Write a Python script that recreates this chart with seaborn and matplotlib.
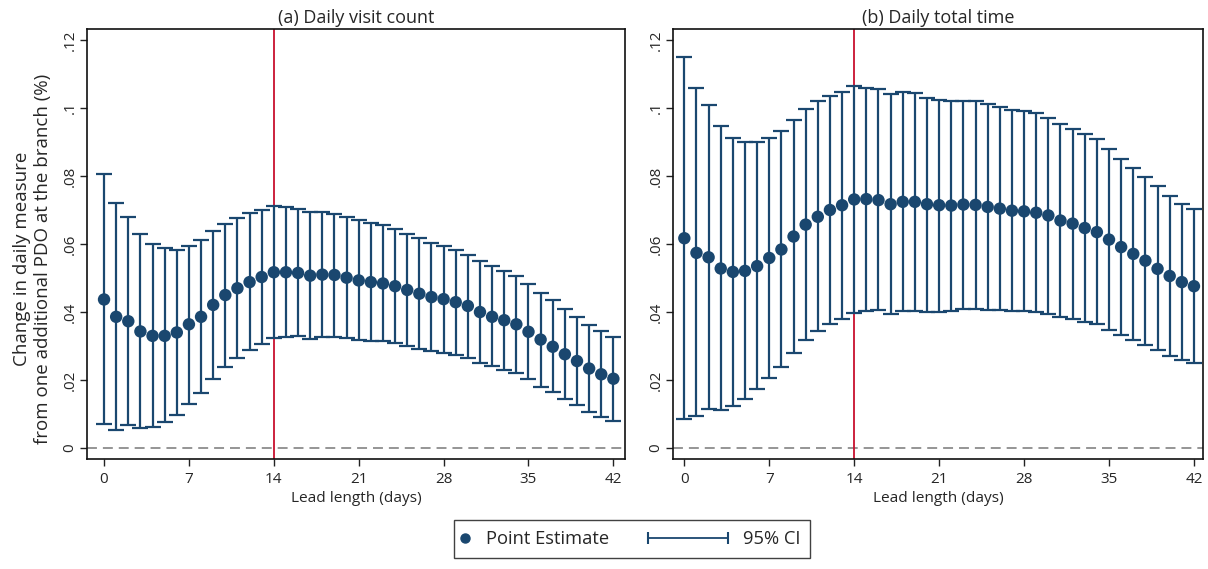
import matplotlib
matplotlib.use("Agg")
import matplotlib.pyplot as plt
from matplotlib.lines import Line2D
from matplotlib.legend_handler import HandlerBase, HandlerLine2D
import pandas as pd
import seaborn as sns

# lead length (days)
days = list(range(43))

# (a) daily visit count
visit_est = [0.0437, 0.0386, 0.0373, 0.0343, 0.0330, 0.0330, 0.0340, 0.0364, 0.0386, 0.0421,
             0.0450, 0.0470, 0.0488, 0.0503, 0.0517, 0.0517, 0.0515, 0.0507, 0.0510, 0.0509,
             0.0501, 0.0493, 0.0488, 0.0484, 0.0476, 0.0465, 0.0454, 0.0444, 0.0438, 0.0429,
             0.0418, 0.0400, 0.0386, 0.0376, 0.0364, 0.0342, 0.0319, 0.0298, 0.0276, 0.0256,
             0.0234, 0.0217, 0.0204]
visit_hi = [0.0807, 0.0722, 0.0680, 0.0629, 0.0600, 0.0587, 0.0582, 0.0595, 0.0611, 0.0638,
            0.0660, 0.0676, 0.0690, 0.0700, 0.0712, 0.0708, 0.0704, 0.0695, 0.0695, 0.0689,
            0.0678, 0.0670, 0.0661, 0.0655, 0.0644, 0.0629, 0.0617, 0.0603, 0.0595, 0.0583,
            0.0569, 0.0549, 0.0535, 0.0522, 0.0507, 0.0482, 0.0457, 0.0434, 0.0410, 0.0386,
            0.0363, 0.0343, 0.0328]
visit_lo = [0.0070, 0.0053, 0.0067, 0.0060, 0.0063, 0.0077, 0.0098, 0.0131, 0.0163, 0.0204,
            0.0239, 0.0264, 0.0287, 0.0306, 0.0323, 0.0326, 0.0329, 0.0320, 0.0327, 0.0327,
            0.0323, 0.0318, 0.0316, 0.0315, 0.0309, 0.0300, 0.0292, 0.0285, 0.0281, 0.0274,
            0.0265, 0.0251, 0.0240, 0.0231, 0.0222, 0.0202, 0.0181, 0.0164, 0.0145, 0.0126,
            0.0106, 0.0091, 0.0079]

# (b) daily total time
time_est = [0.0617, 0.0574, 0.0561, 0.0528, 0.0518, 0.0521, 0.0535, 0.0559, 0.0584, 0.0622,
            0.0657, 0.0680, 0.0700, 0.0714, 0.0731, 0.0732, 0.0729, 0.0717, 0.0724, 0.0724,
            0.0717, 0.0714, 0.0713, 0.0716, 0.0715, 0.0709, 0.0704, 0.0698, 0.0696, 0.0692,
            0.0684, 0.0669, 0.0660, 0.0647, 0.0635, 0.0613, 0.0591, 0.0571, 0.0551, 0.0527,
            0.0506, 0.0488, 0.0476]
time_hi = [0.1149, 0.1059, 0.1009, 0.0946, 0.0912, 0.0899, 0.0901, 0.0912, 0.0932, 0.0965,
           0.0998, 0.1020, 0.1036, 0.1048, 0.1065, 0.1060, 0.1056, 0.1040, 0.1046, 0.1043,
           0.1030, 0.1024, 0.1020, 0.1021, 0.1019, 0.1011, 0.1004, 0.0995, 0.0991, 0.0984,
           0.0971, 0.0952, 0.0939, 0.0922, 0.0908, 0.0879, 0.0851, 0.0824, 0.0798, 0.0771,
           0.0742, 0.0719, 0.0703]
time_lo = [0.0085, 0.0093, 0.0115, 0.0112, 0.0123, 0.0143, 0.0173, 0.0205, 0.0239, 0.0280,
           0.0317, 0.0343, 0.0365, 0.0381, 0.0398, 0.0404, 0.0407, 0.0394, 0.0402, 0.0404,
           0.0401, 0.0401, 0.0404, 0.0410, 0.0410, 0.0407, 0.0406, 0.0402, 0.0402, 0.0401,
           0.0395, 0.0385, 0.0379, 0.0372, 0.0365, 0.0348, 0.0332, 0.0319, 0.0304, 0.0287,
           0.0272, 0.0258, 0.0250]

panel_titles = ["(a) Daily visit count", "(b) Daily total time"]
xticks = [0, 7, 14, 21, 28, 35, 42]
yticks = [0, 0.02, 0.04, 0.06, 0.08, 0.1, 0.12]
ytick_labels = ["0", ".02", ".04", ".06", ".08", ".1", ".12"]
cutoff_day = 14

navy = "#1a476f"
red = "#c8102e"

sns.set_style("white")
plt.rcParams['font.family'] = ['Open Sans', 'DejaVu Sans']

fig = plt.figure(figsize=(12.08, 5.69), dpi=100)
ax1 = fig.add_axes([0.0723, 0.1933, 0.4449, 0.7557])
ax2 = fig.add_axes([0.5574, 0.1933, 0.4387, 0.7557])

panels = [
    (ax1, visit_est, visit_lo, visit_hi, (-1.377, 42.94)),
    (ax2, time_est, time_lo, time_hi, (-0.906, 42.77)),
]

for i, (ax, est, lo, hi, xlim) in enumerate(panels):
    df = pd.DataFrame({"day": days, "est": est, "lo": lo, "hi": hi})
    ax.axhline(0, color="#8c8c8c", lw=1.3, ls=(0, (5.5, 3.3)), zorder=1)
    ax.axvline(cutoff_day, color=red, lw=1.3, zorder=1)
    ax.errorbar(df["day"], df["est"],
                yerr=[df["est"] - df["lo"], df["hi"] - df["est"]],
                fmt="none", ecolor=navy, elinewidth=1.6, capsize=5.5, capthick=1.6, zorder=2)
    sns.scatterplot(data=df, x="day", y="est", ax=ax, color=navy, s=80,
                    edgecolor="none", zorder=3, legend=False)
    ax.set_xlim(*xlim)
    ax.set_ylim(-0.0032, 0.1232)
    ax.set_xticks(xticks)
    ax.set_yticks(yticks)
    ax.set_yticklabels(ytick_labels, rotation=90, va="center")
    ax.tick_params(axis="both", direction="out", length=5, width=1, color="#222222",
                   labelsize=11, left=True, bottom=True)
    ax.tick_params(axis="x", pad=4.5)
    ax.tick_params(axis="y", pad=2)
    for sp in ax.spines.values():
        sp.set_color("#111111")
        sp.set_linewidth(1.2)
    ax.set_title(panel_titles[i], fontsize=13, pad=4)
    ax.set_xlabel("Lead length (days)", fontsize=11.1, labelpad=2.5)
    ax.set_ylabel("")

ax1.set_ylabel("Change in daily measure\nfrom one additional PDO at the branch (%)",
               fontsize=13.5)
ax1.yaxis.set_label_coords(-0.066, 0.466)


class CIHandler(HandlerBase):
    # horizontal line with end caps, reaching left past the handle box
    def create_artists(self, legend, orig_handle, xdescent, ydescent, width, height,
                       fontsize, trans):
        y = height / 2 - ydescent
        x1 = width - xdescent + 2.7
        x0 = x1 - 57.6
        line = Line2D([x0, x1], [y, y], color=navy, lw=1.3, marker="|",
                      markersize=8, markeredgewidth=1.5)
        line.set_transform(trans)
        return [line]


pt_handle = Line2D([], [], color=navy, marker="o", ls="none", markersize=6.5)
ci_handle = Line2D([], [], color=navy)
leg = fig.legend([pt_handle, ci_handle], ["Point Estimate", "95% CI"],
                 loc="lower center", bbox_to_anchor=(0.5232, 0.004), ncol=2,
                 fontsize=13.2, handlelength=0.2, handletextpad=1.04, columnspacing=6.07,
                 frameon=True, fancybox=False, edgecolor="#111111", borderpad=0.52,
                 handler_map={ci_handle: CIHandler(), pt_handle: HandlerLine2D(numpoints=1)})
leg.get_frame().set_linewidth(1.0)

fig.savefig("out.png", dpi=100)
